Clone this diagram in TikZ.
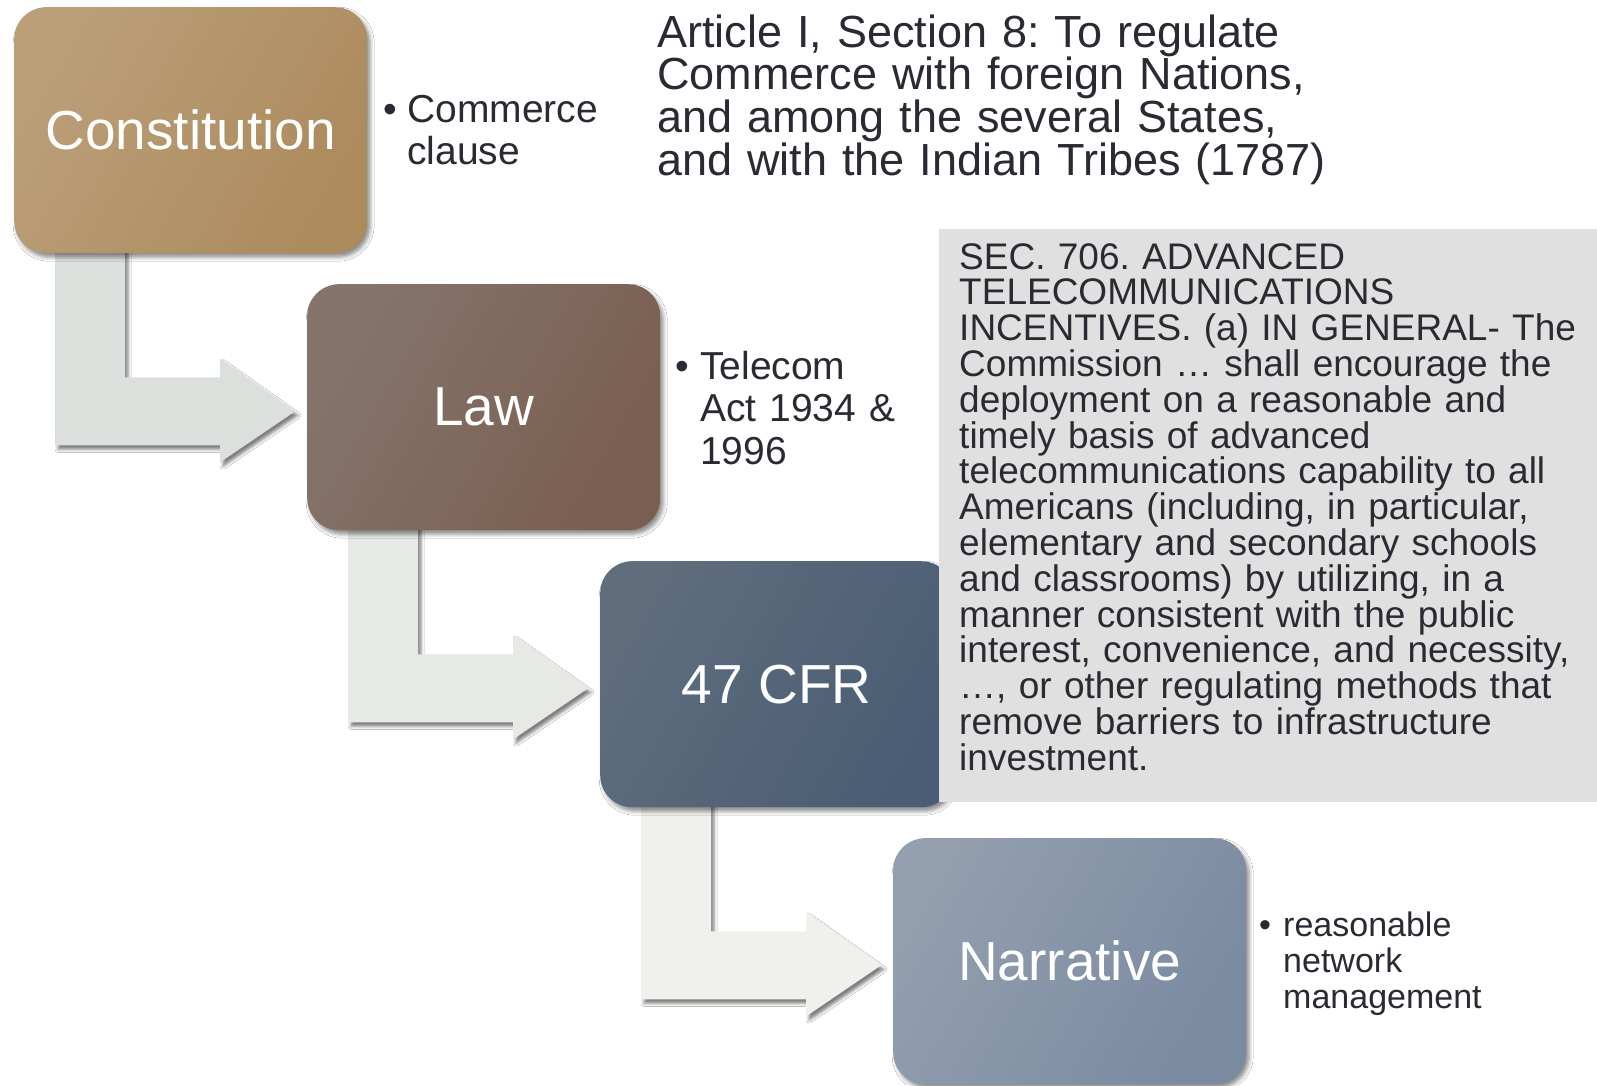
\documentclass[tikz,border=0pt]{standalone}
\usepackage{fontspec}
\setmainfont{Liberation Sans}
\usetikzlibrary{calc,shadows.blur,backgrounds}
\definecolor{txt}{HTML}{2A2A33}
\definecolor{cA}{HTML}{BB9F79}\definecolor{cB}{HTML}{C09A68}\definecolor{cC}{HTML}{AC8B5D}
\definecolor{lA}{HTML}{85746B}\definecolor{lB}{HTML}{85685A}\definecolor{lC}{HTML}{7A5E50}
\definecolor{fA}{HTML}{5F6D7D}\definecolor{fB}{HTML}{566A82}\definecolor{fC}{HTML}{4A5D74}
\definecolor{nA}{HTML}{939FAF}\definecolor{nB}{HTML}{8697AE}\definecolor{nC}{HTML}{7A8AA1}
\definecolor{arA}{HTML}{DCE0DD}\definecolor{arB}{HTML}{E6E9E4}\definecolor{arC}{HTML}{F0F0EC}
\definecolor{grayb}{HTML}{E0E0E0}
\begin{document}
\frenchspacing
\begin{tikzpicture}[x=1pt,y=-1pt,
  box/.style={rounded corners=32pt, anchor=north west, minimum width=353pt, minimum height=246pt,
    inner sep=0pt, text=white, font=\fontsize{55}{60}\selectfont,
    blur shadow={shadow xshift=3pt, shadow yshift=-4pt, shadow blur radius=4pt, shadow opacity=45}},
  elbow/.style={blur shadow={shadow xshift=3pt, shadow yshift=-4pt, shadow blur radius=3pt, shadow opacity=50}},
  bultxt/.style={anchor=base west, inner sep=0pt, text=txt, align=left, text width=#1},
  bul/.style={anchor=base west, inner sep=0pt, text=txt}]
\useasboundingbox (0,0) rectangle (1597,1085);

\node[box, left color=cA, middle color=cA!60!cB, right color=cC, shading angle=60] (b1) at (14,7) {Constitution};
\node[box, left color=lA, middle color=lA!60!lB, right color=lC, shading angle=60] (b2) at (307,284) {Law};
\node[box, left color=fA, middle color=fA!60!fB, right color=fC, shading angle=60] (b3) at (600,561) {47 CFR};
\node[box, left color=nA, middle color=nA!60!nB, right color=nC, shading angle=60] (b4) at (893,838) {Narrative};

\begin{scope}[on background layer]
  \fill[white] (0,0) rectangle (1597,1085);
  \foreach \s/\c in {b1/arA, b2/arB, b3/arC}{
    \begin{scope}[shift={(\s.south west)}]
      \fill[\c, elbow] (41,-12) -- (111,-12) -- (111,124) -- (206,124) -- (206,105)
        -- (281,158) -- (206,209) -- (206,192) -- (41,192) -- cycle;
    \end{scope}
  }
\end{scope}

\node[fill=grayb, anchor=north west, minimum width=658pt, minimum height=573pt, inner sep=0pt] (g) at (939,229) {};

\node[bultxt=800pt, font=\fontsize{45}{42.8}\selectfont] (art) at (657,47)
  {Article I, Section 8: To regulate\\Commerce with foreign Nations,\\and among the several States,\\and with the Indian Tribes (1787)};

\node[bultxt=200pt, font=\fontsize{39}{42}\selectfont] (t1) at (407,122) {Commerce\\clause};
\node[bul, font=\fontsize{39}{42}\selectfont] (d1) at (383,122) {•};

\node[bultxt=220pt, font=\fontsize{39}{42.5}\selectfont] (t2) at (700,379) {Telecom\\Act 1934 \&\\1996};
\node[bul, font=\fontsize{39}{42}\selectfont] (d2) at (675,379) {•};

\node[bultxt=250pt, font=\fontsize{34}{36}\selectfont] (t4) at (1283,936) {reasonable\\network\\management};
\node[bul, font=\fontsize{34}{36}\selectfont] (d4) at (1259,936) {•};

\node[bultxt=640pt, font=\fontsize{37}{35.8}\selectfont] (sec) at (959,269)
  {SEC. 706. ADVANCED\\TELECOMMUNICATIONS\\INCENTIVES. (a) IN GENERAL- The\\Commission … shall encourage the\\deployment on a reasonable and\\timely basis of advanced\\telecommunications capability to all\\Americans (including, in particular,\\elementary and secondary schools\\and classrooms) by utilizing, in a\\manner consistent with the public\\interest, convenience, and necessity,\\…, or other regulating methods that\\remove barriers to infrastructure\\investment.};
\end{tikzpicture}
\end{document}
